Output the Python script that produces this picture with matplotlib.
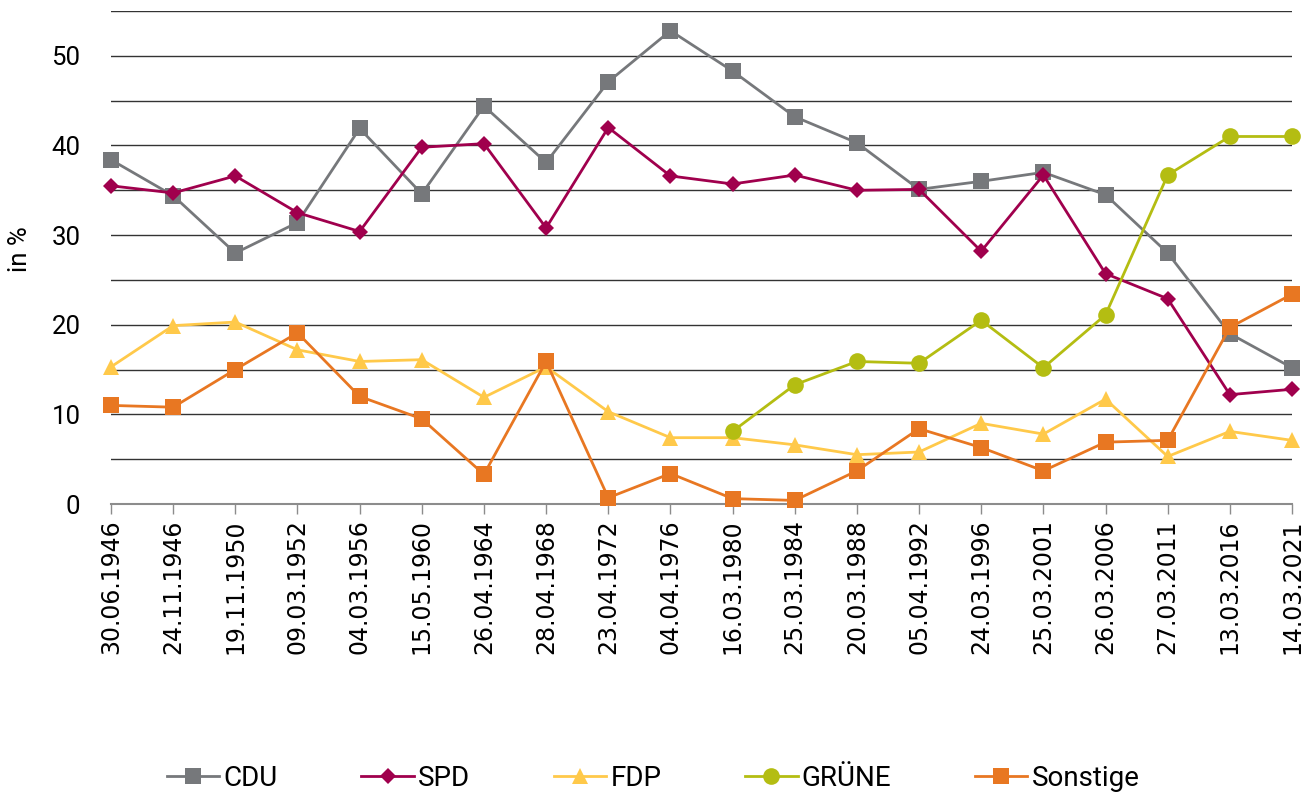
import matplotlib
matplotlib.use("Agg")
import matplotlib.pyplot as plt
from matplotlib.ticker import MultipleLocator

plt.rcParams['font.family'] = ['Roboto', 'DejaVu Sans']

dates = ["30.06.1946", "24.11.1946", "19.11.1950", "09.03.1952", "04.03.1956",
         "15.05.1960", "26.04.1964", "28.04.1968", "23.04.1972", "04.04.1976",
         "16.03.1980", "25.03.1984", "20.03.1988", "05.04.1992", "24.03.1996",
         "25.03.2001", "26.03.2006", "27.03.2011", "13.03.2016", "14.03.2021"]

cdu = [38.4, 34.4, 28.0, 31.4, 41.9, 34.6, 44.4, 38.1, 47.1, 52.8,
       48.3, 43.2, 40.3, 35.1, 36.0, 37.0, 34.5, 28.0, 19.0, 15.2]
spd = [35.5, 34.7, 36.6, 32.5, 30.4, 39.8, 40.2, 30.8, 42.0, 36.6,
       35.7, 36.7, 35.0, 35.1, 28.2, 36.7, 25.7, 22.9, 12.2, 12.8]
fdp = [15.3, 19.9, 20.3, 17.2, 15.9, 16.1, 11.9, 15.3, 10.3, 7.4,
       7.4, 6.6, 5.5, 5.8, 9.0, 7.8, 11.7, 5.3, 8.1, 7.1]
gruene = [None] * 10 + [8.1, 13.3, 15.9, 15.7, 20.5, 15.2, 21.1, 36.7, 41.0, 41.0]
sonstige = [11.0, 10.8, 15.0, 19.1, 12.0, 9.5, 3.3, 15.9, 0.7, 3.4,
            0.6, 0.4, 3.7, 8.4, 6.3, 3.7, 6.9, 7.1, 19.7, 23.4]

series = [
    ("CDU", cdu, "#76787b", "s", 11.5),
    ("SPD", spd, "#a0004d", "D", 8.5),
    ("FDP", fdp, "#ffc94a", "^", 12),
    ("GRÜNE", gruene, "#b4bd12", "o", 12),
    ("Sonstige", sonstige, "#e87722", "s", 11.5),
]

fig = plt.figure(figsize=(13.14, 7.98), dpi=100)
ax = fig.add_axes([111 / 1314, 1 - 504 / 798, (1292 - 111) / 1314, (504 - 11) / 798])

x = list(range(len(dates)))
for name, vals, col, mk, ms in series:
    xs = [i for i, v in zip(x, vals) if v is not None]
    ys = [v for v in vals if v is not None]
    ax.plot(xs, ys, color=col, lw=2, marker=mk, markersize=ms,
            markeredgewidth=0, label=name, clip_on=False, zorder=3)

ax.set_xlim(0, len(dates) - 1)
ax.set_ylim(0, 55)
ax.yaxis.set_major_locator(MultipleLocator(10))
ax.yaxis.set_minor_locator(MultipleLocator(5))
ax.grid(True, axis='y', which='both', color='#333333', lw=1.0, zorder=1)
ax.set_axisbelow(True)

for s in ['top', 'right', 'left']:
    ax.spines[s].set_visible(False)
ax.spines['bottom'].set_color('#8c8c8c')
ax.spines['bottom'].set_linewidth(1.5)

ax.set_xticks(x)
ax.set_xticklabels(dates, rotation=90, fontsize=17,
                   family=['Liberation Sans Narrow', 'DejaVu Sans'])
ax.tick_params(axis='x', direction='out', length=7, width=1, color='#8c8c8c', pad=4)
ax.tick_params(axis='y', which='both', length=0, pad=22, labelsize=18.5)

fig.text(20 / 1314, 1 - 249 / 798, "in %", rotation=90, fontsize=18.5,
         ha='center', va='center')

fig.legend(loc='center', bbox_to_anchor=(0.497, 0.025), ncol=5, frameon=False,
           fontsize=20, handlelength=1.9, handletextpad=0.15, columnspacing=3.0)

fig.savefig("out.png", dpi=100)
